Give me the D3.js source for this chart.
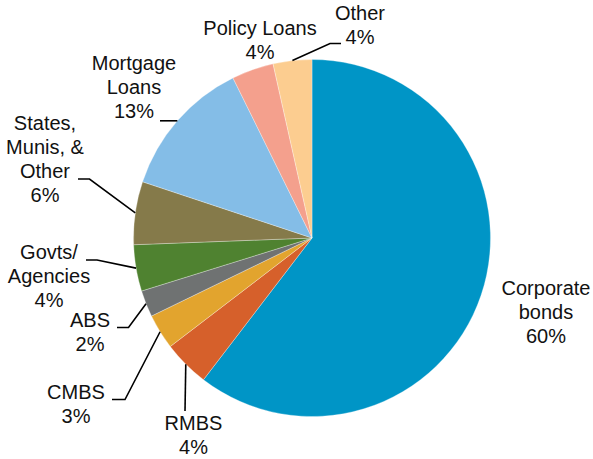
<!DOCTYPE html>
<html>
<head>
<meta charset="utf-8">
<script src="https://cdn.jsdelivr.net/npm/d3@7"></script>
<style>
  html, body { margin: 0; padding: 0; background: #fff; }
  svg { display: block; }
  text { font-family: "Liberation Sans", Arial, sans-serif; font-size: 20px; fill: #111; }
</style>
</head>
<body>
<svg id="chart" width="593" height="459"></svg>
<script>
// Portfolio allocation by asset class (share of total, %)
const categories = ["Corporate bonds", "RMBS", "CMBS", "ABS", "Govts/ Agencies",
                    "States, Munis, & Other", "Mortgage Loans", "Policy Loans", "Other"];
const labelLines = [["Corporate", "bonds"], ["RMBS"], ["CMBS"], ["ABS"], ["Govts/", "Agencies"],
                    ["States,", "Munis, &", "Other"], ["Mortgage", "Loans"], ["Policy Loans"], ["Other"]];
const shares = [60.4, 4.2, 3.2, 2.4, 4.2, 5.7, 12.6, 3.8, 3.5];
const colors = ["#0095C6", "#D6602B", "#E2A42E", "#6F7272", "#4F8230",
                "#857A4A", "#84BDE7", "#F4A08D", "#FCCD90"];

const svg = d3.select("#chart");
const cx = 312, cy = 238, radius = 178.5;
const lineHeight = 24;

// Label placement: text centre x, first baseline y, and leader path after leaving the pie edge
const layout = [
  { tx: 546, ty: 295, leader: null },
  { tx: 193.5, ty: 430, leader: [[185, 411]] },
  { tx: 76, ty: 399, leader: [[125, 399.5], [112, 399.5]] },
  { tx: 90, ty: 327, leader: [[128.5, 327.5], [117, 327.5]] },
  { tx: 49, ty: 259, leader: [[97, 260], [86, 260]] },
  { tx: 45, ty: 130, leader: [[89.5, 179], [78, 179]] },
  { tx: 134, ty: 70, leader: [[160, null]] },
  { tx: 260, ty: 35, leader: null },
  { tx: 360, ty: 20, leader: [[330, 43.5], [341, 43.5]] }
];

const pie = d3.pie().sort(null).value(d => d)(shares);
const arc = d3.arc().innerRadius(0).outerRadius(radius);
const edge = d3.arc().innerRadius(radius).outerRadius(radius);

const g = svg.append("g").attr("transform", `translate(${cx},${cy})`);

g.selectAll("path.slice")
  .data(pie)
  .join("path")
  .attr("class", "slice")
  .attr("d", arc)
  .attr("fill", (d, i) => colors[i])
  .attr("stroke", "#ffffff")
  .attr("stroke-width", 0.5)
  .attr("stroke-opacity", 0.6);

// Leader lines from each slice's outer edge (mid-angle) to its label
const line = d3.line();
pie.forEach((d, i) => {
  const L = layout[i].leader;
  if (!L) return;
  const [ex, ey] = edge.centroid(d);
  const start = [cx + ex, cy + ey];
  const pts = [start].concat(L.map(p => [p[0], p[1] === null ? start[1] : p[1]]));
  svg.append("path")
    .attr("d", line(pts))
    .attr("fill", "none")
    .attr("stroke", "#000")
    .attr("stroke-width", 1.6);
});

// Category labels with rounded percentage
pie.forEach((d, i) => {
  const lines = labelLines[i].concat([Math.round(shares[i]) + "%"]);
  const t = svg.append("text")
    .attr("text-anchor", "middle")
    .attr("x", layout[i].tx)
    .attr("y", layout[i].ty);
  lines.forEach((s, k) => {
    t.append("tspan")
      .attr("x", layout[i].tx)
      .attr("y", layout[i].ty + k * lineHeight)
      .text(s);
  });
});
</script>
</body>
</html>
